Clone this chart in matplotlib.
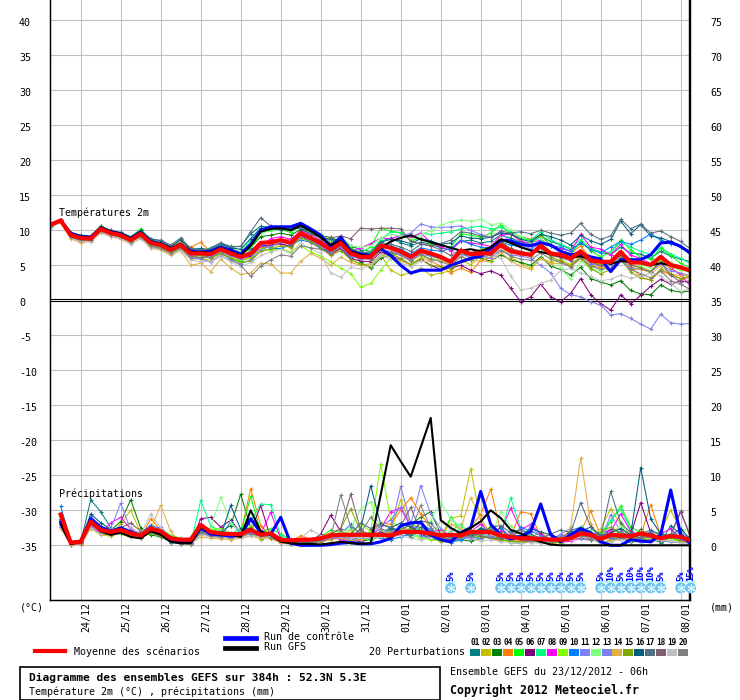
import matplotlib
matplotlib.use('Agg')
import matplotlib.pyplot as plt
from matplotlib.lines import Line2D
from matplotlib.patches import Rectangle
import matplotlib.transforms as mtransforms
import numpy as np

plt.rcParams['font.family'] = ['DejaVu Sans Mono', 'DejaVu Sans']

# ---------------- data ----------------
step_hours = list(range(0, 385, 6))          # 65 forecast steps (temperature)
precip_hours = list(range(6, 385, 6))        # 64 steps (precipitation)

temp_mean = [10.8, 11.4, 9.3, 8.9, 8.8, 10.2, 9.6, 9.3, 8.6, 9.5, 8.2, 7.9, 7.2, 7.9, 6.7, 6.7, 6.6,
             7.3, 6.7, 6.2, 6.7, 8.2, 8.3, 8.6, 8.2, 9.6, 8.9, 8.2, 7.2, 8.2, 6.7, 6.2, 6.2, 7.8,
             7.5, 7.0, 6.2, 7.1, 6.7, 6.2, 5.5, 7.1, 6.6, 6.7, 6.7, 7.9, 7.0, 6.7, 6.5, 7.8, 6.7,
             6.5, 6.0, 7.0, 5.7, 5.5, 5.5, 6.9, 5.4, 5.4, 5.05, 6.2, 5.05, 4.7, 4.2]
temp_control = [10.8, 11.4, 9.6, 9.1, 9.0, 10.3, 9.8, 9.5, 8.8, 9.7, 8.4, 8.1, 7.4, 8.0, 7.0, 6.9, 7.0,
                7.6, 7.2, 6.6, 8.0, 10.0, 10.5, 10.5, 10.5, 11.0, 10.2, 9.3, 7.7, 9.0, 7.0, 6.6, 6.4,
                7.4, 6.4, 5.0, 3.9, 4.3, 4.3, 4.3, 5.0, 5.5, 6.0, 6.3, 7.4, 8.6, 8.5, 8.0, 7.8, 8.2,
                7.9, 7.0, 6.5, 6.7, 6.2, 5.9, 4.1, 5.8, 5.8, 5.8, 6.5, 8.2, 8.3, 7.7, 6.7]
temp_gfs = [10.9, 11.5, 9.5, 9.1, 9.0, 10.4, 9.8, 9.5, 8.8, 9.7, 8.4, 8.1, 7.4, 8.1, 6.9, 6.9, 6.8,
            7.5, 6.9, 6.4, 7.8, 9.8, 10.2, 10.3, 10.0, 10.7, 9.9, 9.0, 7.9, 8.5, 7.0, 6.5, 6.3,
            7.4, 8.4, 8.9, 9.3, 8.7, 8.3, 7.9, 7.5, 7.1, 7.3, 7.0, 7.6, 8.7, 8.2, 7.6, 7.1, 6.9,
            6.6, 6.3, 6.1, 6.3, 5.8, 5.6, 5.2, 5.6, 5.5, 5.4, 5.0, 5.3, 5.0, 4.6, 4.3]

temp_p01 = [10.7, 11.3, 9.0, 8.5, 8.6, 10.4, 9.9, 9.5, 8.9, 9.8, 8.6, 8.2, 7.6, 8.7, 7.3, 7.1, 7.5,
            8.2, 7.6, 7.7, 9.5, 10.6, 10.4, 10.2, 10.3, 10.6, 9.9, 9.4, 8.4, 8.9, 7.8, 7.2, 7.0,
            8.4, 8.9, 8.2, 7.8, 8.3, 8.0, 7.5, 7.2, 8.4, 8.6, 8.2, 8.4, 9.3, 8.9, 8.3, 8.1, 9.2,
            8.4, 7.9, 7.3, 8.1, 7.4, 6.9, 6.5, 7.6, 6.8, 6.6, 6.0, 7.0, 6.3, 5.9, 5.5]
temp_p02 = [10.6, 11.2, 9.1, 8.6, 8.7, 10.0, 9.4, 9.1, 8.3, 9.3, 7.9, 7.5, 6.7, 7.3, 5.9, 6.0, 5.7,
            6.6, 6.1, 5.6, 6.1, 7.6, 7.6, 8.1, 7.5, 9.0, 8.3, 7.6, 6.4, 7.5, 5.9, 5.1, 5.2,
            6.5, 4.3, 3.6, 3.9, 4.6, 3.6, 3.9, 4.2, 5.7, 5.1, 6.3, 6.9, 7.8, 6.2, 5.3, 4.6, 6.0,
            5.5, 5.8, 5.1, 6.4, 5.0, 4.6, 5.2, 6.3, 4.8, 4.4, 4.0, 5.6, 4.5, 3.8, 3.3]
temp_p03 = [10.8, 11.4, 9.4, 9.0, 9.0, 10.3, 9.7, 9.4, 8.5, 9.4, 8.1, 7.8, 7.3, 8.0, 6.9, 6.6, 6.8,
            7.5, 6.9, 6.7, 7.5, 9.1, 9.3, 9.6, 9.3, 10.1, 9.5, 9.2, 9.0, 8.4, 7.6, 5.4, 4.6,
            6.0, 6.5, 6.8, 5.6, 6.9, 6.4, 5.9, 5.3, 6.8, 6.2, 6.0, 5.6, 6.5, 5.8, 5.4, 5.0, 6.2,
            4.9, 4.4, 3.6, 4.7, 3.1, 2.6, 2.2, 2.8, 1.4, 0.9, 0.8, 2.2, 1.4, 1.2, 1.3]
temp_p04 = [10.9, 11.5, 9.2, 8.8, 8.9, 10.1, 9.4, 9.1, 8.5, 9.2, 8.0, 8.1, 7.8, 8.3, 7.6, 8.3, 6.9,
            7.5, 6.5, 5.6, 6.2, 7.4, 7.9, 8.5, 8.8, 9.4, 8.2, 7.5, 6.5, 7.8, 6.6, 6.1, 5.9,
            7.9, 7.3, 6.6, 5.7, 6.8, 5.6, 4.9, 3.9, 4.6, 4.0, 5.7, 6.1, 9.6, 9.4, 9.0, 8.8, 9.2,
            7.9, 6.9, 6.7, 7.8, 5.9, 4.6, 5.6, 7.1, 4.8, 3.3, 2.9, 4.2, 3.6, 3.1, 3.2]
temp_p05 = [10.7, 11.3, 9.5, 9.2, 9.0, 10.6, 9.9, 9.6, 9.0, 10.2, 8.5, 8.0, 7.0, 7.6, 6.3, 6.5, 6.2,
            6.8, 5.9, 5.6, 7.4, 9.7, 10.0, 10.1, 9.7, 10.6, 9.5, 8.9, 7.8, 9.1, 7.4, 6.8, 7.6,
            10.3, 9.9, 9.6, 8.5, 8.9, 8.1, 7.9, 7.6, 9.5, 9.3, 9.0, 9.6, 10.8, 9.5, 8.8, 8.6, 9.4,
            7.8, 7.1, 6.6, 8.4, 7.1, 6.2, 6.9, 8.6, 7.2, 6.1, 5.9, 7.4, 6.4, 5.3, 4.6]
temp_p06 = [10.8, 11.4, 9.3, 8.8, 8.7, 10.0, 9.5, 9.2, 8.6, 9.4, 8.0, 7.7, 6.9, 7.6, 6.3, 6.1, 6.4,
            7.7, 6.5, 6.0, 6.3, 7.8, 7.9, 8.1, 7.7, 9.2, 8.6, 7.8, 6.6, 7.4, 6.0, 5.6, 5.5,
            6.9, 6.4, 5.8, 5.1, 5.9, 5.0, 4.4, 4.6, 5.0, 4.3, 3.8, 4.2, 3.6, 1.7, -0.2, 0.5, 2.3,
            0.5, -0.2, 1.0, 3.1, 0.8, -0.5, -1.4, 0.8, -0.5, 0.7, 2.0, 3.0, 2.3, 2.8, 2.5]
temp_p07 = [10.6, 11.3, 9.6, 9.1, 9.0, 10.5, 9.8, 9.5, 8.8, 9.7, 8.3, 8.0, 7.5, 8.1, 7.0, 7.2, 7.0,
            7.8, 7.3, 6.9, 8.5, 10.1, 10.4, 10.3, 10.2, 10.5, 9.8, 9.0, 8.1, 8.8, 7.2, 6.6, 7.0,
            8.6, 9.8, 9.7, 9.0, 9.6, 9.4, 9.6, 9.8, 10.2, 10.4, 10.6, 10.2, 10.4, 9.8, 9.1, 8.6, 9.8,
            8.6, 8.0, 7.4, 8.7, 7.4, 6.8, 6.9, 8.3, 7.6, 7.0, 6.5, 7.6, 6.6, 6.0, 5.2]
temp_p08 = [10.7, 11.4, 9.2, 8.9, 8.8, 10.1, 9.6, 9.3, 8.7, 9.5, 8.3, 7.9, 7.4, 7.8, 6.8, 6.5, 6.9,
            7.2, 6.6, 6.2, 5.9, 7.7, 8.8, 9.1, 8.7, 9.9, 9.4, 8.6, 7.7, 8.6, 7.0, 7.5, 8.1,
            8.9, 8.8, 9.3, 9.0, 9.6, 8.3, 7.6, 7.1, 8.5, 8.2, 8.0, 7.7, 9.3, 9.5, 8.4, 8.2, 8.6,
            7.7, 7.4, 7.0, 9.4, 7.6, 7.3, 6.5, 8.0, 6.4, 6.0, 5.2, 6.3, 4.6, 3.6, 2.0]
temp_p09 = [10.6, 11.2, 9.0, 8.7, 8.9, 10.4, 9.6, 9.2, 8.4, 9.9, 8.2, 7.6, 6.9, 8.0, 6.4, 6.8, 6.2,
            7.1, 6.2, 5.8, 6.0, 7.4, 7.1, 7.4, 6.9, 7.8, 6.9, 6.3, 5.5, 4.6, 3.8, 1.9, 2.4,
            4.3, 6.0, 5.6, 5.1, 6.2, 6.0, 5.7, 5.3, 6.8, 6.6, 7.3, 7.6, 8.7, 7.1, 6.9, 6.5, 8.2,
            6.6, 6.4, 6.0, 7.2, 5.5, 5.1, 5.7, 7.1, 5.0, 4.8, 4.2, 5.9, 4.8, 4.3, 4.4]
temp_p10 = [10.8, 11.5, 9.4, 8.9, 9.1, 10.2, 9.7, 9.3, 8.7, 9.6, 8.3, 8.0, 7.1, 7.9, 6.5, 6.8, 6.4,
            7.1, 6.8, 6.9, 7.3, 7.9, 7.4, 7.4, 7.9, 8.6, 8.3, 7.4, 6.9, 7.7, 6.2, 6.3, 6.1,
            7.5, 7.8, 7.3, 6.6, 7.5, 7.2, 7.0, 7.4, 8.6, 8.0, 7.6, 7.5, 8.3, 7.9, 7.6, 7.3, 8.6,
            7.8, 7.6, 7.0, 8.3, 7.2, 6.8, 7.6, 8.4, 8.0, 8.6, 9.5, 8.6, 8.1, 7.6, 7.0]
temp_p11 = [10.7, 11.3, 9.3, 9.0, 8.9, 10.3, 9.6, 9.2, 8.6, 9.6, 8.1, 7.8, 7.1, 7.7, 6.5, 6.4, 6.3,
            7.0, 6.3, 5.9, 6.5, 8.1, 8.4, 8.5, 8.0, 9.5, 8.6, 8.0, 7.3, 7.6, 6.5, 6.1, 6.0,
            7.6, 8.4, 9.2, 9.6, 10.9, 10.5, 10.4, 10.5, 10.6, 10.0, 9.4, 9.0, 9.7, 8.4, 7.9, 7.4, 8.0,
            6.6, 6.2, 5.8, 6.7, 5.2, 4.9, 5.0, 6.2, 4.6, 4.4, 4.1, 5.2, 4.2, 3.9, 3.5]
temp_p12 = [10.6, 11.2, 9.5, 9.2, 9.1, 10.5, 9.9, 9.5, 8.8, 9.8, 8.4, 8.2, 7.6, 8.2, 7.1, 7.0, 7.2,
            7.9, 7.4, 7.0, 7.9, 9.6, 9.9, 10.2, 9.9, 10.7, 10.1, 9.4, 8.5, 9.2, 7.8, 7.6, 7.8,
            8.9, 9.4, 9.2, 8.7, 9.4, 9.9, 10.7, 11.2, 11.5, 11.3, 11.6, 10.8, 11.0, 10.1, 9.0, 8.1, 8.9,
            6.8, 4.6, 3.0, 5.6, 4.5, 4.2, 5.4, 6.8, 5.9, 5.1, 4.6, 6.2, 5.4, 4.4, 3.9]
temp_p13 = [10.8, 11.4, 9.2, 8.7, 8.6, 10.0, 9.5, 9.1, 8.4, 9.3, 7.9, 7.6, 6.8, 7.4, 6.0, 5.9, 5.5,
            6.3, 5.7, 5.2, 5.8, 7.2, 7.7, 8.3, 8.0, 9.1, 8.4, 7.7, 6.9, 7.9, 6.3, 5.9, 6.0,
            7.2, 7.0, 6.6, 5.8, 6.6, 6.3, 5.9, 5.2, 6.6, 6.1, 6.3, 6.0, 7.1, 6.5, 6.3, 6.0, 5.0,
            3.9, 1.7, 0.8, 0.5, -0.2, -0.7, -2.1, -1.9, -2.6, -3.4, -4.1, -2.0, -3.2, -3.4, -3.3]
temp_p14 = [10.5, 11.1, 8.8, 8.2, 8.4, 9.7, 9.1, 8.8, 8.0, 8.9, 7.4, 7.2, 6.4, 7.1, 5.0, 5.3, 4.1,
            5.9, 4.6, 3.7, 3.9, 5.3, 5.2, 3.9, 3.9, 5.6, 6.7, 6.0, 5.0, 6.2, 5.4, 5.0, 5.1,
            6.4, 6.2, 5.7, 5.0, 6.1, 5.6, 5.8, 5.1, 6.3, 5.7, 5.6, 5.5, 6.9, 5.6, 4.9, 4.4, 6.0,
            5.2, 5.3, 4.8, 5.9, 4.7, 4.8, 4.5, 5.7, 4.3, 4.5, 3.9, 4.9, 3.8, 3.5, 3.0]
temp_p15 = [10.7, 11.3, 9.1, 8.7, 8.7, 10.0, 9.4, 9.0, 8.3, 9.2, 7.8, 7.5, 6.8, 7.6, 6.2, 6.4, 6.0,
            6.8, 6.0, 5.4, 5.6, 7.0, 7.3, 7.8, 7.6, 8.9, 8.4, 7.5, 6.4, 7.1, 5.8, 5.2, 4.8,
            6.4, 6.7, 6.0, 5.1, 5.8, 5.0, 4.8, 4.5, 5.5, 5.7, 6.6, 7.0, 8.5, 7.3, 6.6, 6.3, 7.5,
            6.2, 5.6, 4.9, 6.2, 4.5, 3.8, 4.4, 6.1, 4.0, 3.2, 2.9, 4.5, 3.7, 3.1, 3.5]
temp_p16 = [10.9, 11.5, 9.6, 9.3, 9.2, 10.6, 10.0, 9.7, 9.1, 10.0, 8.8, 8.5, 7.7, 8.6, 7.3, 7.4, 7.2,
            8.0, 7.5, 7.3, 8.8, 10.3, 10.3, 10.1, 10.4, 10.2, 9.9, 9.0, 8.7, 8.5, 7.1, 6.6, 6.8,
            8.3, 8.7, 8.5, 8.1, 8.8, 8.5, 8.0, 8.2, 9.2, 8.9, 8.8, 9.0, 9.6, 9.5, 8.7, 8.4, 9.4,
            9.1, 8.6, 7.9, 9.3, 8.5, 8.0, 8.7, 11.3, 9.5, 10.8, 9.2, 8.9, 8.4, 7.6, 6.5]
temp_p17 = [10.8, 11.4, 9.5, 9.1, 9.0, 10.5, 9.8, 9.6, 8.9, 9.8, 8.6, 8.6, 7.9, 8.9, 7.4, 7.2, 7.3,
            8.2, 7.7, 7.7, 9.8, 11.8, 10.6, 10.4, 10.2, 10.4, 9.5, 9.0, 8.1, 9.0, 7.3, 6.9, 6.8,
            8.2, 8.0, 7.6, 7.0, 8.0, 7.8, 8.1, 8.6, 9.8, 9.6, 9.2, 9.0, 9.9, 9.6, 9.8, 9.5, 10.0,
            9.6, 9.3, 9.6, 11.0, 9.4, 8.7, 9.2, 11.6, 10.2, 10.9, 9.6, 9.9, 9.1, 8.4, 7.3]
temp_p18 = [10.7, 11.4, 9.2, 8.8, 8.8, 10.2, 9.6, 9.3, 8.7, 9.5, 8.2, 7.9, 7.2, 7.9, 6.8, 6.8, 6.7,
            7.3, 6.8, 6.3, 6.6, 8.0, 8.2, 8.6, 8.1, 9.4, 8.8, 8.6, 8.9, 9.2, 8.8, 10.3, 10.2,
            10.3, 10.3, 10.2, 8.4, 8.1, 7.8, 7.2, 6.4, 7.3, 6.8, 7.2, 7.0, 8.3, 7.4, 7.0, 6.7, 7.5,
            6.4, 6.1, 5.6, 6.7, 5.4, 5.0, 5.3, 6.4, 5.1, 4.6, 4.1, 5.5, 3.6, 2.6, 2.8]
temp_p19 = [10.5, 11.2, 8.9, 8.4, 8.3, 9.6, 9.1, 8.7, 8.0, 8.8, 7.5, 7.3, 6.6, 7.2, 5.8, 5.5, 5.6,
            6.4, 5.5, 4.8, 5.4, 6.4, 6.9, 7.3, 6.7, 8.2, 7.4, 6.7, 3.9, 3.3, 4.7, 4.5, 5.0,
            6.4, 5.9, 5.3, 4.8, 5.6, 5.5, 6.0, 5.4, 7.0, 6.3, 6.6, 6.4, 6.0, 3.5, 1.5, 1.7, 2.4,
            2.9, 4.2, 4.6, 3.9, 3.4, 2.8, 3.0, 3.6, 3.2, 3.4, 3.9, 3.5, 2.4, 1.3, 1.6]
temp_p20 = [10.6, 11.3, 9.0, 8.6, 8.6, 9.9, 9.3, 9.0, 8.3, 9.1, 7.7, 7.4, 6.7, 7.5, 6.2, 6.1, 6.1,
            6.7, 5.9, 5.0, 3.4, 4.9, 5.8, 6.5, 6.3, 7.8, 7.5, 7.3, 6.6, 7.7, 6.6, 6.0, 5.8,
            7.2, 6.9, 6.4, 5.6, 6.5, 5.9, 5.5, 5.0, 6.2, 5.8, 6.2, 6.4, 7.2, 6.3, 5.9, 5.7, 6.8,
            5.9, 5.4, 4.8, 6.1, 4.9, 4.4, 4.6, 5.7, 4.4, 3.8, 3.2, 4.2, 2.8, 2.3, 1.5]

precip_mean = [4.4, 0.4, 0.5, 3.4, 2.2, 1.9, 2.2, 1.7, 1.4, 2.4, 2.0, 1.0, 0.8, 0.8, 2.9, 1.9,
               1.7, 1.6, 1.6, 2.2, 1.5, 1.7, 0.8, 0.7, 0.8, 0.8, 1.0, 1.4, 1.5, 1.5, 1.5, 1.5,
               1.5, 1.4, 1.9, 1.9, 1.9, 1.7, 1.4, 1.5, 1.4, 1.9, 1.9, 1.9, 1.4, 1.2, 1.0, 1.0,
               0.9, 0.8, 0.8, 1.0, 1.7, 1.5, 0.9, 1.5, 1.4, 1.3, 1.7, 1.4, 1.0, 1.3, 1.2, 0.7]
precip_control = [3.3, 0.3, 0.6, 3.8, 2.6, 2.0, 2.5, 1.9, 1.4, 2.2, 1.8, 0.7, 0.4, 0.4, 2.5, 1.6,
                  1.5, 1.3, 1.4, 3.8, 1.8, 1.6, 4.0, 0.3, 0.0, 0.0, 0.0, 0.1, 0.3, 0.4, 0.2, 0.2,
                  0.5, 1.0, 2.8, 3.2, 3.3, 1.5, 0.8, 0.5, 1.8, 2.5, 7.7, 3.0, 1.5, 0.9, 1.2, 2.0,
                  5.9, 1.5, 0.5, 1.5, 2.4, 1.8, 0.5, 0.0, 0.0, 0.8, 0.6, 0.5, 1.5, 7.9, 1.5, 0.2]
precip_gfs = [3.0, 0.2, 0.4, 3.3, 2.0, 1.5, 1.8, 1.2, 1.0, 2.0, 1.5, 0.5, 0.3, 0.3, 2.6, 1.8,
              1.5, 1.5, 1.2, 5.0, 2.0, 1.5, 0.5, 0.3, 0.2, 0.2, 0.1, 0.3, 0.5, 0.3, 0.2, 0.3,
              7.2, 14.3, 12.0, 9.8, 14.0, 18.2, 3.6, 2.5, 1.7, 2.5, 3.4, 5.0, 3.9, 2.2, 1.7, 1.0,
              0.5, 0.1, 0.0, 0.0, 0.0, 0.0, 0.0, 0.0, 0.0, 0.0, 0.0, 0.0, 0.0, 0.0, 0.0, 0.0]

precip_p01 = [3.5, 0.2, 0.4, 6.5, 4.8, 2.5, 2.0, 1.5, 1.0, 2.8, 1.5, 0.4, 0.3, 0.2, 3.0, 1.4,
              1.2, 1.0, 1.8, 2.5, 0.9, 1.5, 0.3, 0.2, 0.4, 0.3, 0.8, 1.5, 0.9, 0.6, 1.3, 1.1,
              1.8, 2.5, 2.0, 1.2, 2.6, 1.5, 0.6, 0.4, 1.0, 1.5, 2.5, 1.9, 0.8, 0.6, 0.4, 0.7,
              0.5, 0.4, 0.9, 2.1, 2.6, 1.6, 0.6, 1.4, 1.9, 0.8, 2.3, 1.2, 0.4, 2.8, 1.6, 0.5]
precip_p02 = [2.8, 0.1, 0.3, 2.9, 2.0, 1.6, 3.0, 5.0, 1.8, 1.9, 1.5, 0.6, 0.4, 0.3, 2.0, 2.4,
              1.5, 1.2, 1.3, 1.8, 0.8, 1.6, 0.4, 0.2, 0.1, 0.3, 0.5, 1.0, 1.3, 2.2, 1.0, 0.8,
              1.3, 2.0, 6.5, 3.0, 1.5, 1.2, 0.5, 3.8, 4.2, 10.9, 3.5, 1.0, 0.6, 0.8, 0.5, 1.2,
              1.8, 0.9, 0.5, 0.8, 1.5, 1.2, 2.4, 5.2, 3.0, 1.5, 0.8, 1.3, 2.0, 5.0, 2.2, 0.6]
precip_p03 = [3.6, 0.3, 0.6, 3.2, 1.8, 2.1, 3.4, 6.5, 2.5, 1.5, 1.2, 0.5, 0.2, 0.3, 2.2, 1.6,
              2.0, 2.8, 7.3, 2.5, 1.6, 1.4, 0.7, 0.4, 0.3, 0.6, 0.9, 1.4, 1.6, 0.8, 0.5, 0.9,
              1.2, 2.4, 2.2, 3.0, 4.0, 4.8, 1.6, 1.4, 0.8, 0.6, 1.0, 1.3, 1.0, 0.4, 0.3, 0.6,
              0.4, 0.3, 0.5, 1.5, 1.8, 1.0, 0.3, 0.6, 1.2, 0.5, 1.4, 0.8, 0.5, 1.1, 0.6, 0.3]
precip_p04 = [4.3, 0.2, 0.4, 2.7, 2.1, 1.8, 1.6, 1.2, 1.1, 3.8, 2.2, 0.8, 0.4, 0.5, 2.6, 1.4,
              1.0, 1.2, 1.6, 8.1, 2.8, 1.4, 0.6, 0.5, 1.4, 0.8, 1.2, 1.8, 1.2, 0.8, 1.6, 1.8,
              3.2, 3.0, 5.0, 6.8, 4.5, 2.5, 1.0, 0.6, 1.8, 2.6, 4.4, 8.0, 2.0, 1.2, 4.8, 4.5,
              1.2, 0.8, 0.4, 1.0, 2.0, 4.9, 1.3, 0.8, 1.6, 0.9, 1.4, 5.8, 1.4, 1.0, 0.8, 0.4]
precip_p05 = [3.0, 0.2, 0.5, 3.5, 2.4, 1.7, 2.0, 1.5, 1.4, 2.1, 2.4, 1.4, 1.0, 0.6, 2.8, 2.3,
              1.9, 1.4, 1.7, 7.0, 1.9, 2.4, 1.6, 0.9, 0.5, 0.3, 1.2, 2.2, 1.8, 1.3, 1.2, 2.0,
              1.6, 1.2, 2.6, 3.4, 2.0, 1.4, 1.0, 4.0, 1.9, 1.4, 1.0, 2.8, 1.6, 1.4, 1.1, 0.9,
              0.6, 0.4, 0.7, 1.3, 2.6, 1.6, 1.8, 3.4, 5.6, 2.6, 1.8, 1.2, 0.9, 1.0, 0.8, 1.2]
precip_p06 = [3.4, 0.3, 0.2, 3.0, 2.6, 2.2, 2.4, 1.6, 1.3, 2.6, 1.9, 0.6, 0.4, 0.3, 3.8, 4.0,
              2.6, 3.6, 1.8, 1.9, 5.7, 1.0, 0.5, 0.3, 0.6, 0.5, 1.6, 4.3, 2.0, 1.0, 0.6, 1.0,
              2.0, 1.2, 1.5, 2.5, 1.6, 1.0, 0.6, 0.9, 1.2, 1.8, 2.2, 1.4, 2.6, 1.0, 1.5, 1.2,
              0.8, 0.6, 1.2, 1.8, 1.3, 0.9, 1.4, 2.3, 1.8, 1.5, 6.1, 1.8, 0.8, 1.5, 4.8, 1.2]
precip_p07 = [3.2, 0.3, 0.4, 2.9, 2.0, 1.5, 1.9, 1.8, 1.3, 2.2, 1.7, 0.6, 0.3, 0.2, 6.4, 2.8,
              2.0, 1.6, 2.4, 3.5, 5.9, 5.8, 1.4, 0.6, 0.4, 0.5, 1.0, 1.3, 1.8, 1.5, 1.0, 0.7,
              1.4, 1.6, 2.3, 1.8, 1.2, 1.0, 0.8, 2.1, 3.0, 1.4, 2.0, 2.5, 1.4, 6.8, 2.4, 1.3,
              0.8, 0.5, 0.4, 0.9, 1.6, 1.2, 0.5, 3.6, 5.2, 2.2, 0.9, 0.7, 1.0, 0.6, 0.4, 1.3]
precip_p08 = [2.6, 0.1, 0.2, 2.6, 1.7, 3.2, 4.0, 2.3, 1.5, 2.5, 1.9, 0.9, 0.3, 0.2, 1.8, 1.4,
              1.4, 1.7, 1.5, 2.0, 1.6, 4.7, 1.0, 0.4, 0.5, 0.4, 0.9, 1.2, 0.8, 0.5, 0.8, 1.5,
              2.4, 4.8, 5.3, 2.6, 1.6, 2.0, 2.2, 1.4, 1.6, 2.0, 3.0, 1.8, 2.0, 5.3, 2.2, 3.0,
              1.6, 0.8, 0.4, 0.6, 1.0, 1.8, 1.5, 2.0, 4.5, 2.0, 0.9, 0.8, 1.6, 2.4, 0.8, 0.6]
precip_p09 = [3.1, 0.2, 0.4, 3.0, 1.9, 1.7, 2.3, 2.1, 1.6, 2.0, 1.8, 0.7, 0.4, 0.1, 2.0, 2.2,
              2.4, 1.8, 1.5, 2.8, 1.3, 1.4, 0.6, 0.3, 0.2, 0.5, 0.6, 1.1, 1.9, 1.6, 3.0, 2.0,
              11.6, 3.6, 2.4, 1.5, 1.0, 0.8, 0.6, 0.9, 1.3, 1.9, 1.6, 1.0, 0.8, 0.5, 0.4, 0.9,
              1.1, 0.9, 0.5, 1.2, 1.6, 0.9, 0.6, 1.6, 2.4, 1.4, 1.0, 1.6, 0.8, 0.6, 0.9, 0.7]
precip_p10 = [5.6, 0.6, 0.3, 3.6, 2.2, 1.8, 2.0, 1.3, 1.7, 2.9, 2.3, 0.6, 0.3, 0.2, 2.6, 1.5,
              1.2, 3.4, 1.6, 2.0, 1.8, 1.4, 0.5, 0.4, 0.2, 0.4, 0.6, 1.4, 1.6, 3.0, 1.5, 1.4,
              1.0, 0.8, 1.2, 1.6, 3.2, 2.2, 1.0, 0.5, 0.7, 1.4, 1.6, 1.2, 2.5, 0.8, 2.6, 2.0,
              1.4, 0.9, 0.6, 1.6, 2.2, 1.8, 1.3, 1.0, 0.8, 1.4, 1.1, 2.0, 1.6, 1.2, 0.9, 0.6]
precip_p11 = [3.8, 0.2, 0.5, 4.2, 2.6, 2.4, 6.0, 2.2, 1.8, 2.3, 2.6, 1.0, 0.4, 0.4, 2.2, 1.2,
              1.3, 1.1, 1.4, 2.3, 1.5, 1.2, 0.7, 0.2, 0.3, 0.2, 0.5, 1.0, 1.2, 0.9, 0.8, 1.6,
              2.8, 3.6, 5.5, 3.0, 8.5, 4.5, 2.4, 1.0, 1.2, 0.9, 1.4, 1.8, 1.0, 0.6, 0.4, 2.8,
              1.2, 0.8, 1.6, 2.4, 1.8, 1.0, 0.6, 4.4, 2.0, 1.3, 1.6, 1.0, 0.7, 1.3, 1.9, 0.8]
precip_p12 = [3.3, 0.3, 0.7, 3.0, 2.4, 1.8, 1.6, 1.9, 1.4, 2.4, 1.6, 0.8, 0.5, 0.2, 1.6, 2.5,
              6.9, 3.2, 1.9, 1.6, 1.4, 2.2, 0.8, 0.5, 0.4, 0.2, 0.6, 1.3, 1.8, 2.4, 5.2, 6.2,
              2.2, 1.4, 2.6, 1.5, 1.2, 3.5, 6.2, 3.8, 2.6, 2.3, 1.6, 1.1, 4.8, 2.7, 1.6, 1.0,
              0.6, 0.5, 0.7, 1.0, 1.4, 2.2, 1.8, 1.6, 2.8, 1.8, 1.2, 0.8, 1.4, 0.8, 1.2, 3.4]
precip_p13 = [2.9, 0.2, 0.3, 2.8, 1.9, 1.6, 2.6, 1.6, 1.2, 1.8, 1.3, 0.5, 0.3, 0.2, 2.4, 1.9,
              1.6, 1.3, 1.2, 1.8, 1.1, 1.5, 0.6, 0.3, 0.3, 0.4, 0.6, 0.9, 1.1, 0.7, 0.9, 1.2,
              1.6, 2.2, 8.4, 3.2, 1.4, 1.0, 0.8, 0.6, 1.0, 1.2, 0.9, 1.4, 1.2, 2.0, 0.8, 0.5,
              0.6, 1.0, 1.4, 1.1, 0.9, 0.7, 1.0, 1.8, 1.4, 1.0, 0.7, 0.9, 0.6, 0.5, 0.4, 0.3]
precip_p14 = [2.4, 0.1, 0.2, 2.4, 1.5, 1.3, 1.8, 1.2, 1.0, 2.3, 5.7, 2.0, 0.3, 0.2, 1.2, 1.0,
              0.9, 0.8, 1.0, 1.3, 1.0, 0.9, 0.4, 0.2, 0.2, 0.2, 0.4, 0.8, 1.0, 0.7, 0.8, 1.0,
              1.4, 1.8, 2.2, 2.4, 1.8, 1.2, 1.8, 3.0, 2.4, 6.8, 3.8, 1.6, 1.0, 0.8, 0.6, 0.8,
              0.8, 0.6, 0.5, 2.6, 12.5, 3.0, 1.0, 0.6, 1.0, 0.8, 0.6, 1.0, 0.8, 0.6, 0.5, 0.4]
precip_p15 = [3.0, 0.2, 0.4, 2.5, 1.6, 1.5, 2.1, 1.4, 1.1, 1.7, 1.4, 0.5, 0.3, 0.2, 1.9, 1.8,
              1.4, 1.5, 1.3, 2.6, 1.4, 1.2, 0.5, 0.2, 0.2, 0.3, 0.7, 1.6, 2.4, 5.2, 2.0, 1.3,
              1.4, 1.0, 1.8, 2.4, 2.0, 1.6, 1.0, 0.8, 1.2, 1.6, 1.2, 1.0, 0.8, 0.6, 0.5, 0.7,
              0.4, 0.3, 0.4, 0.9, 1.3, 1.1, 1.9, 2.6, 1.8, 1.2, 0.9, 0.7, 1.8, 1.2, 0.6, 0.4]
precip_p16 = [3.7, 0.3, 0.5, 4.5, 3.2, 2.3, 1.8, 1.9, 1.7, 2.6, 2.0, 0.9, 0.5, 0.3, 2.3, 1.7,
              1.3, 5.7, 2.3, 2.4, 1.7, 1.6, 0.8, 0.4, 0.5, 0.3, 0.9, 1.5, 1.4, 1.0, 2.4, 8.5,
              3.0, 2.5, 3.2, 2.6, 1.8, 1.3, 0.9, 1.5, 1.8, 1.2, 2.4, 2.0, 1.0, 1.3, 1.4, 2.4,
              1.9, 1.5, 1.0, 1.4, 2.0, 2.6, 1.4, 1.8, 2.4, 1.5, 11.1, 3.8, 1.6, 1.4, 2.4, 0.8]
precip_p17 = [3.2, 0.3, 0.4, 3.4, 2.3, 2.1, 2.4, 2.0, 1.4, 2.4, 1.8, 0.7, 0.4, 0.3, 2.1, 1.9,
              1.7, 1.5, 1.6, 2.4, 1.4, 1.5, 0.9, 0.5, 0.3, 0.4, 0.8, 1.2, 1.4, 1.6, 3.2, 2.4,
              3.0, 2.6, 1.8, 1.5, 3.5, 3.2, 1.5, 1.0, 1.4, 2.0, 1.6, 2.6, 2.8, 1.8, 2.2, 1.6,
              1.0, 1.6, 2.2, 1.8, 6.1, 2.6, 1.2, 7.7, 3.2, 1.8, 1.6, 2.2, 1.4, 1.6, 1.2, 0.8]
precip_p18 = [3.4, 0.4, 0.6, 3.0, 2.2, 1.9, 2.5, 3.2, 2.0, 2.2, 1.7, 0.8, 0.5, 0.3, 2.4, 1.6,
              1.6, 1.4, 1.9, 2.1, 1.3, 1.8, 0.7, 0.3, 0.4, 0.3, 1.0, 1.6, 2.4, 7.3, 2.2, 1.4,
              1.6, 1.2, 2.8, 5.4, 2.0, 1.5, 1.0, 0.8, 1.3, 1.8, 1.4, 1.0, 0.9, 1.4, 0.8, 0.6,
              0.7, 0.5, 0.9, 1.2, 1.0, 0.8, 0.7, 1.4, 1.0, 0.8, 1.2, 1.6, 1.0, 1.4, 4.9, 1.0]
precip_p19 = [2.7, 0.2, 0.7, 2.5, 1.6, 2.4, 2.2, 2.6, 1.5, 4.5, 2.5, 0.8, 0.4, 0.2, 1.5, 1.2,
              1.1, 1.2, 1.0, 1.4, 1.2, 1.2, 0.5, 0.3, 1.0, 2.2, 1.4, 1.2, 1.4, 1.0, 1.2, 1.0,
              1.2, 1.6, 1.4, 1.0, 0.8, 1.0, 3.5, 2.2, 2.0, 1.0, 0.6, 0.8, 0.5, 0.4, 0.3, 0.4,
              0.3, 0.6, 1.0, 0.8, 1.2, 1.0, 0.4, 0.5, 0.8, 0.6, 0.4, 0.5, 0.8, 0.6, 0.4, 0.3]
precip_p20 = [3.0, 0.2, 0.3, 3.1, 2.0, 2.3, 2.1, 1.8, 1.2, 2.0, 1.6, 0.5, 0.2, 0.2, 1.8, 1.3,
              1.2, 1.4, 1.3, 1.6, 1.4, 1.1, 0.8, 0.4, 0.3, 0.2, 0.6, 1.1, 7.2, 2.6, 1.8, 4.0,
              2.4, 1.8, 2.6, 2.0, 5.7, 2.5, 1.2, 0.9, 1.4, 1.2, 1.6, 2.4, 1.2, 1.6, 1.8, 1.3,
              1.0, 0.8, 1.2, 1.6, 1.4, 1.1, 0.8, 1.2, 1.4, 1.0, 0.9, 1.4, 1.1, 1.6, 1.2, 0.8]

member_labels = ['01', '02', '03', '04', '05', '06', '07', '08', '09', '10',
                 '11', '12', '13', '14', '15', '16', '17', '18', '19', '20']
member_colors = ['#008080', '#c0c000', '#008000', '#ff8000', '#00ff00', '#800080', '#00ff80',
                 '#ff00ff', '#80ff00', '#0080ff', '#8080ff', '#80ff80', '#7f7ff0', '#e0b040',
                 '#80a800', '#006080', '#507080', '#806070', '#c0c0c0', '#808080']

date_hours = [18, 42, 66, 90, 114, 138, 162, 186, 210, 234, 258, 282, 306, 330, 354, 378]
date_labels = ['24/12', '25/12', '26/12', '27/12', '28/12', '29/12', '30/12', '31/12',
               '01/01', '02/01', '03/01', '04/01', '05/01', '06/01', '07/01', '08/01']

left_ticks = [-35, -30, -25, -20, -15, -10, -5, 0, 5, 10, 15, 20, 25, 30, 35, 40]
right_ticks = [0, 5, 10, 15, 20, 25, 30, 35, 40, 45, 50, 55, 60, 65, 70, 75]

snow_hours = [240, 252, 270, 276, 282, 288, 294, 300, 306, 312, 318,
              330, 336, 342, 348, 354, 360, 366, 378, 384]
snow_pct = [5, 5, 5, 5, 5, 5, 5, 5, 5, 5, 5, 5, 10, 5, 10, 10, 10, 5, 5, 15]

temp_members = [temp_p01, temp_p02, temp_p03, temp_p04, temp_p05, temp_p06, temp_p07,
                temp_p08, temp_p09, temp_p10, temp_p11, temp_p12, temp_p13, temp_p14,
                temp_p15, temp_p16, temp_p17, temp_p18, temp_p19, temp_p20]
precip_members = [precip_p01, precip_p02, precip_p03, precip_p04, precip_p05, precip_p06,
                  precip_p07, precip_p08, precip_p09, precip_p10, precip_p11, precip_p12,
                  precip_p13, precip_p14, precip_p15, precip_p16, precip_p17, precip_p18,
                  precip_p19, precip_p20]

# ---------------- figure ----------------
W, H = 740, 700
fig = plt.figure(figsize=(W / 100, H / 100), dpi=100)
fig.patch.set_facecolor('white')


def fx(x):
    return x / W


def fy(y):
    return 1 - y / H


ax_left, ax_right, ax_top, ax_bot = 50, 690, 0, 600
ax = fig.add_axes([fx(ax_left), fy(ax_bot), (ax_right - ax_left) / W, (ax_bot - ax_top) / H])
# pixel calibration: value 0 at y=300.3, 7 px per unit ; hour 0 at x=50.7, 40 px per day
y0px, ppu = 300.3, 7.0
ylo = (y0px - ax_bot) / ppu
yhi = (y0px - ax_top) / ppu
xlo = (ax_left - 50.7) * 24 / 40
xhi = (ax_right - 50.7) * 24 / 40
ax.set_xlim(xlo, xhi)
ax.set_ylim(ylo, yhi)
ax.set_xticks([])
ax.set_yticks([])
for s in ['top']:
    ax.spines[s].set_visible(False)
ax.spines['left'].set_linewidth(1.0)
ax.spines['bottom'].set_linewidth(1.0)
ax.spines['right'].set_linewidth(1.6)

ax2 = ax.twinx()
ax2.set_ylim(ylo + 35, yhi + 35)
ax2.set_yticks([])
ax2.spines['top'].set_visible(False)
ax2.spines['right'].set_linewidth(1.6)

grid_c = '#c0c0c0'
for h in date_hours:
    ax.axvline(h, color=grid_c, lw=0.8, zorder=0)
for v in left_ticks:
    if v != 0:
        ax.axhline(v, color=grid_c, lw=0.8, zorder=0)
# double separator line at 0
ax.axhline(1.0 / ppu, color='black', lw=0.8, zorder=1)
ax.axhline(-1.0 / ppu, color='black', lw=0.8, zorder=1)

# temperature
for vals, col in zip(temp_members, member_colors):
    ax.plot(step_hours, vals, color=col, lw=0.75, marker='+', ms=3, mew=0.8, zorder=2)
ax.plot(step_hours, temp_control, color='#0000ff', lw=2.2, zorder=3)
ax.plot(step_hours, temp_gfs, color='black', lw=1.5, zorder=4)
ax.plot(step_hours, temp_mean, color='#ff0000', lw=3.0, zorder=5)

# precipitation (right axis, mm)
for vals, col in zip(precip_members, member_colors):
    ax2.plot(precip_hours, vals, color=col, lw=0.75, marker='+', ms=3, mew=0.8, zorder=2)
ax2.plot(precip_hours, precip_control, color='#0000ff', lw=2.2, zorder=3)
ax2.plot(precip_hours, precip_gfs, color='black', lw=1.5, zorder=4)
ax2.plot(precip_hours, precip_mean, color='#ff0000', lw=3.0, zorder=5)

# snow probability icons
icon_y = (y0px - 588) / ppu + 35
band_lo = (y0px - 583) / ppu + 35
band_hi = (y0px - 580) / ppu + 35
txt_y = (y0px - 580.7) / ppu + 35
for h, p in zip(snow_hours, snow_pct):
    ax2.add_patch(Rectangle((h - 3.3, band_lo), 6.6, band_hi - band_lo, facecolor='#c4ffff',
                            edgecolor='none', zorder=6, clip_on=False))
ax2.scatter(snow_hours, [icon_y] * len(snow_hours), s=62, color='#70c0ec', edgecolors='none',
            zorder=7, clip_on=False)
ax2.scatter(snow_hours, [icon_y] * len(snow_hours), s=30, marker=(6, 2, 0), color='#d8f4ff',
            linewidths=0.9, zorder=8, clip_on=False)
for h, p in zip(snow_hours, snow_pct):
    ax2.text(h, txt_y, f'{p}%', rotation=90, ha='center', va='bottom', color='#0000ff',
             fontsize=6.3, fontweight='bold', zorder=9, clip_on=False)

# tick labels
lab_off = mtransforms.ScaledTranslation(0, -2.5 / 100, fig.dpi_scale_trans)
tl = mtransforms.blended_transform_factory(fig.transFigure, ax.transData) + lab_off
tr = mtransforms.blended_transform_factory(fig.transFigure, ax2.transData) + lab_off
for v in left_ticks:
    fig.text(fx(19), v, str(v), transform=tl, ha='left', va='center', fontsize=7.2)
for v in right_ticks:
    fig.text(fx(710), v, str(v), transform=tr, ha='left', va='center', fontsize=7.2)
td = mtransforms.blended_transform_factory(ax.transData, fig.transFigure) + \
    mtransforms.ScaledTranslation(6 / 100, 0, fig.dpi_scale_trans)
for h, lab in zip(date_hours, date_labels):
    fig.text(h, fy(601.5), lab, transform=td, rotation=90, ha='center', va='top', fontsize=7.2)

fig.text(fx(20), fy(607), '(°C)', ha='left', va='center', fontsize=7.2)
fig.text(fx(710), fy(608), '(mm)', ha='left', va='center', fontsize=7.2)
fig.text(fx(59), fy(213), 'Températures 2m', ha='left', va='center', fontsize=7.2)
fig.text(fx(59), fy(494), 'Précipitations', ha='left', va='center', fontsize=7.2)

# legend
fig.add_artist(Line2D([fx(35), fx(65)], [fy(651), fy(651)], color='#ff0000', lw=3.0))
fig.text(fx(74), fy(651.5), 'Moyenne des scénarios', ha='left', va='center', fontsize=7.2)
fig.add_artist(Line2D([fx(225), fx(256)], [fy(637.5), fy(637.5)], color='#0000ff', lw=3.4))
fig.add_artist(Line2D([fx(225), fx(256)], [fy(647.5), fy(647.5)], color='black', lw=3.4))
fig.text(fx(264), fy(637), 'Run de contrôle', ha='left', va='center', fontsize=7.2)
fig.text(fx(264), fy(646.5), 'Run GFS', ha='left', va='center', fontsize=7.2)
fig.text(fx(369), fy(652), '20 Perturbations', ha='left', va='center', fontsize=7.2)
for k, (lab, col) in enumerate(zip(member_labels, member_colors)):
    x0 = 470 + 10.96 * k
    fig.add_artist(Rectangle((fx(x0), fy(655.7)), 10 / W, 6.3 / H, transform=fig.transFigure,
                             facecolor=col, edgecolor='none'))
    fig.text(fx(x0 + 5), fy(642.5), lab, ha='center', va='center', fontsize=5.6,
             fontweight='bold')

# bottom info box
fig.add_artist(Rectangle((fx(20), fy(700)), 420 / W, 33 / H, transform=fig.transFigure,
                         facecolor='none', edgecolor='black', lw=1.2))
fig.text(fx(29), fy(677.5), 'Diagramme des ensembles GEFS sur 384h : 52.3N 5.3E', ha='left',
         va='center', fontsize=8.1, fontweight='bold')
fig.text(fx(29), fy(691.5), 'Température 2m (°C) , précipitations (mm)', ha='left', va='center',
         fontsize=7.2)
fig.text(fx(450), fy(672.5), 'Ensemble GEFS du 23/12/2012 - 06h', ha='left', va='center',
         fontsize=7.2)
fig.text(fx(450), fy(690.5), 'Copyright 2012 Meteociel.fr', ha='left', va='center',
         fontsize=8.4, fontweight='bold')

fig.savefig('out.png', dpi=100)
